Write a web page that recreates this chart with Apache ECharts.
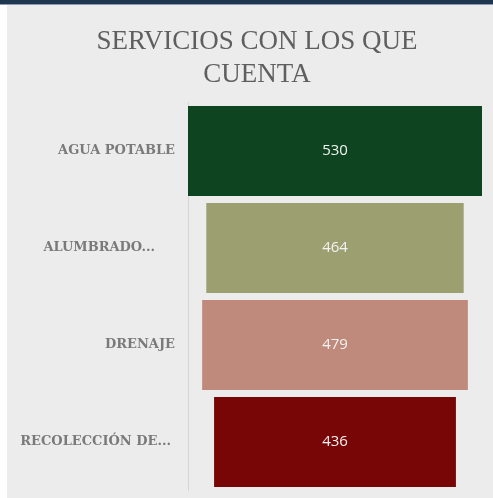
<!DOCTYPE html>
<html lang="es">
<head>
    <meta charset="UTF-8">
    <title>Servicios con los que cuenta</title>
    <script src="https://cdn.jsdelivr.net/npm/echarts@6/dist/echarts.min.js"></script>
    <style>
        html, body { margin: 0; padding: 0; background: #ffffff; }
        #chart { width: 493px; height: 498px; }
    </style>
</head>
<body>
<div id="chart"></div>
<script type="text/javascript">
    // datos del grafico
    var categorias = ['AGUA POTABLE', 'ALUMBRADO...', 'DRENAJE', 'RECOLECCIÓN DE...'];
    var valores = [530, 464, 479, 436];
    var colores = ['#0e4520', '#9ca070', '#bf8a7b', '#780606'];

    var maximo = Math.max.apply(null, valores);
    // desplazamiento invisible para centrar cada barra (estilo embudo)
    var relleno = valores.map(function (v) { return (maximo - v) / 2; });

    // las etiquetas recortadas quedan un poco más a la izquierda
    var margenDerecho = [0, 20, 0, 4];

    var myChart = echarts.init(document.getElementById('chart'));
    var option = {
        backgroundColor: '#ffffff',
        animation: false,
        graphic: [
            { type: 'rect', shape: { x: 7, y: 0, width: 486, height: 498 }, style: { fill: '#ececec' }, z: -10 },
            { type: 'rect', shape: { x: 0, y: 0, width: 493, height: 4 }, style: { fill: '#1f3650' }, z: 10 },
            { type: 'rect', shape: { x: 0, y: 4, width: 493, height: 1 }, style: { fill: '#8c9ab8' }, z: 10 }
        ],
        title: {
            text: 'SERVICIOS CON LOS QUE\nCUENTA',
            left: 252,
            top: 20,
            textAlign: 'center',
            textStyle: {
                fontFamily: 'Liberation Serif',
                fontWeight: 'normal',
                fontSize: 27,
                lineHeight: 33,
                color: '#5f5f5f'
            }
        },
        grid: { left: 188, right: 11, top: 102.5, bottom: 7.5 },
        xAxis: {
            type: 'value',
            min: 0,
            max: maximo,
            show: false
        },
        yAxis: {
            type: 'category',
            inverse: true,
            data: categorias.map(function (c, i) {
                return { value: c, textStyle: { padding: [4, margenDerecho[i], 0, 0] } };
            }),
            axisLine: { show: true, lineStyle: { color: '#d6d6d6', width: 1 } },
            axisTick: { show: false },
            axisLabel: {
                margin: 13,
                fontFamily: 'DejaVu Serif',
                fontWeight: 'bold',
                fontSize: 13,
                color: '#7a7a7a'
            }
        },
        series: [
            {
                type: 'bar',
                stack: 'embudo',
                data: relleno,
                barWidth: 90,
                itemStyle: { color: 'transparent' },
                silent: true
            },
            {
                type: 'bar',
                stack: 'embudo',
                barWidth: 90,
                data: valores.map(function (v, i) {
                    return { value: v, itemStyle: { color: colores[i] } };
                }),
                label: {
                    show: true,
                    position: 'inside',
                    padding: [4, 0, 0, 0],
                    fontFamily: 'Open Sans',
                    fontSize: 15,
                    color: '#f2f2f2'
                }
            }
        ]
    };
    myChart.setOption(option);
</script>
</body>
</html>
